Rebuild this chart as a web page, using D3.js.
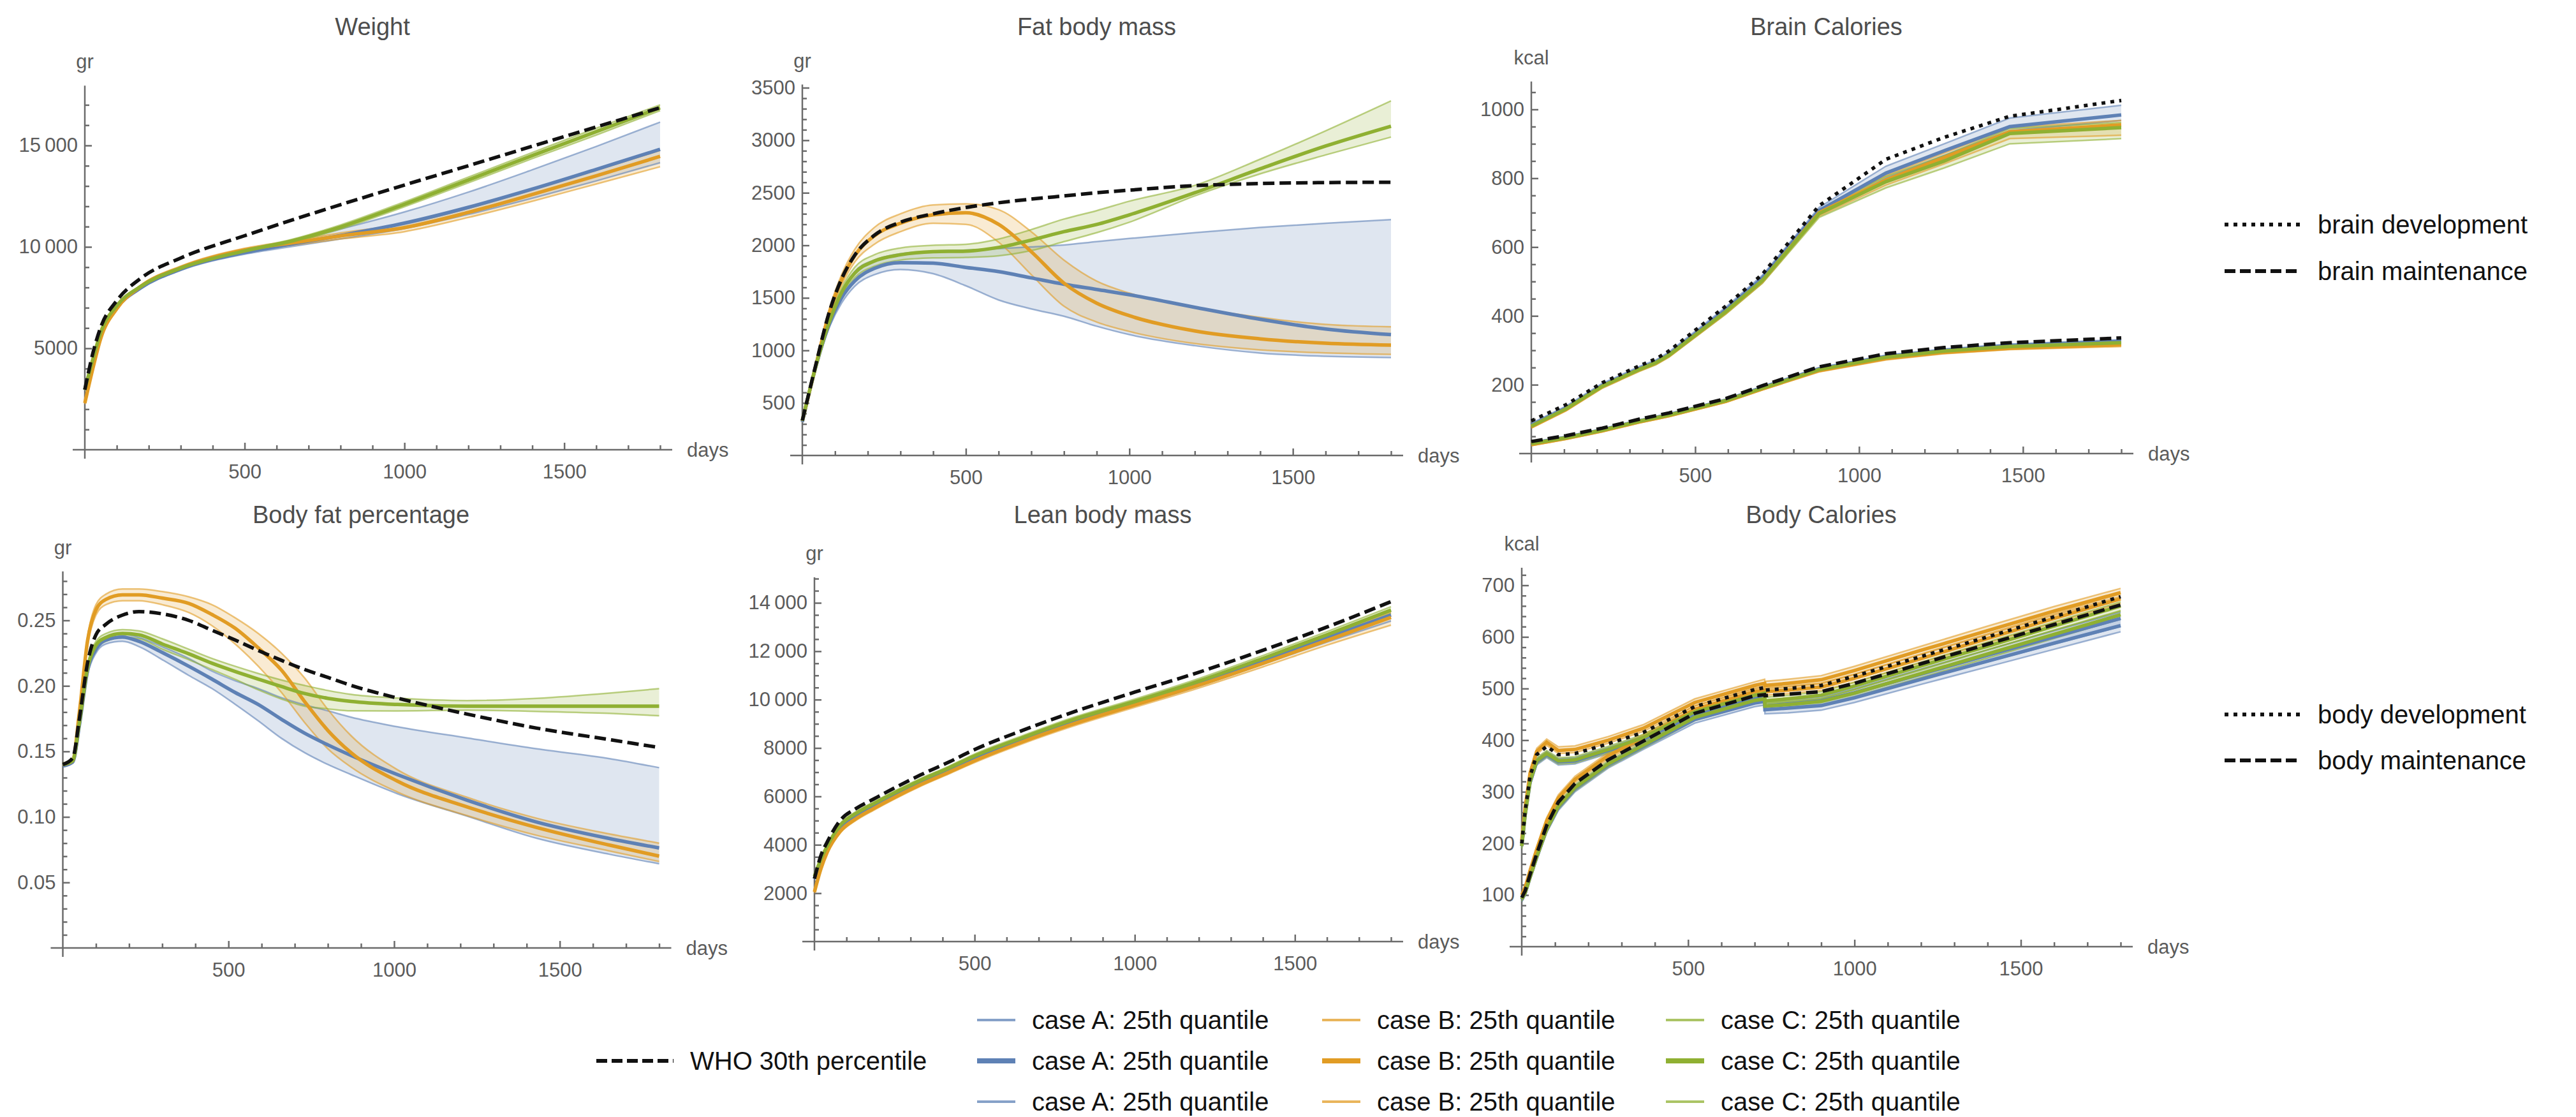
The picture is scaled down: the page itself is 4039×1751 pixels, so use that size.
<!DOCTYPE html>
<html>
<head>
<meta charset="utf-8">
<script src="https://cdn.jsdelivr.net/npm/d3@7"></script>
<style>
  body { margin: 0; background: #fff; }
  svg text { font-family: "Liberation Sans", Arial, Helvetica, sans-serif; }
</style>
</head>
<body>
<div id="chart"></div>
<script>
"use strict";

// ---------- data ----------
const weightDays = [0, 25, 50, 100, 175, 300, 500, 650, 800, 1000, 1200, 1400, 1600, 1800];
const weightWHO = [2960, 4750, 6050, 7350, 8450, 9450, 10550, 11330, 12080, 13050, 14000, 14960, 15910, 16860];
const weightA_med = [2960, 4380, 5700, 7000, 7980, 8900, 9720, 10150, 10560, 11170, 11950, 12850, 13820, 14810];
const weightA_hi = [3000, 4420, 5740, 7040, 8030, 8960, 9800, 10300, 10880, 11720, 12700, 13800, 14950, 16150];
const weightA_lo = [2920, 4340, 5660, 6960, 7930, 8840, 9640, 10020, 10390, 10900, 11600, 12400, 13250, 14150];
const weightB_med = [2300, 4000, 5500, 6950, 8050, 8980, 9850, 10200, 10540, 10950, 11700, 12580, 13500, 14460];
const weightB_hi = [2350, 4050, 5560, 7010, 8110, 9050, 9930, 10310, 10690, 11130, 11900, 12820, 13780, 14760];
const weightB_lo = [2250, 3950, 5440, 6890, 7990, 8910, 9770, 10090, 10390, 10750, 11450, 12250, 13100, 13950];
const weightC_med = [2960, 4450, 5800, 7100, 8050, 8950, 9800, 10300, 10980, 12100, 13300, 14500, 15680, 16860];
const weightC_hi = [3000, 4500, 5850, 7150, 8100, 9010, 9860, 10380, 11080, 12220, 13440, 14650, 15850, 17000];
const weightC_lo = [2920, 4400, 5750, 7050, 8000, 8890, 9740, 10220, 10880, 11980, 13160, 14350, 15510, 16720];

const fatDays = [0, 40, 80, 120, 160, 220, 300, 400, 500, 600, 700, 800, 900, 1000, 1200, 1400, 1600, 1800];
const fatWHO = [333, 848, 1340, 1680, 1905, 2095, 2220, 2300, 2360, 2405, 2440, 2470, 2500, 2525, 2568, 2588, 2597, 2600];
const fatA_med = [320, 830, 1230, 1500, 1660, 1780, 1835, 1830, 1790, 1750, 1690, 1630, 1580, 1530, 1410, 1296, 1204, 1150];
const fatA_hi = [330, 845, 1260, 1560, 1750, 1860, 1920, 1945, 1955, 1968, 1985, 2003, 2035, 2065, 2120, 2170, 2210, 2245];
const fatA_lo = [310, 815, 1200, 1450, 1610, 1720, 1770, 1730, 1615, 1480, 1395, 1325, 1230, 1150, 1045, 975, 944, 932];
const fatB_med = [330, 840, 1330, 1670, 1900, 2090, 2210, 2290, 2310, 2200, 1940, 1640, 1450, 1330, 1185, 1110, 1068, 1050];
const fatB_hi = [345, 870, 1370, 1720, 1960, 2170, 2300, 2385, 2395, 2340, 2130, 1860, 1660, 1545, 1410, 1315, 1247, 1225];
const fatB_lo = [315, 810, 1290, 1620, 1840, 2010, 2130, 2210, 2200, 2030, 1720, 1420, 1270, 1180, 1065, 1005, 976, 963];
const fatC_med = [330, 835, 1250, 1550, 1735, 1850, 1910, 1940, 1945, 1980, 2050, 2130, 2198, 2290, 2500, 2728, 2945, 3134];
const fatC_hi = [340, 850, 1275, 1590, 1790, 1910, 1975, 2000, 2010, 2060, 2150, 2250, 2330, 2420, 2570, 2820, 3090, 3375];
const fatC_lo = [320, 820, 1225, 1510, 1690, 1800, 1860, 1880, 1885, 1900, 1950, 2035, 2120, 2220, 2470, 2680, 2860, 3030];

const brainDays = [0, 106, 217, 330, 380, 420, 594, 705, 878, 1082, 1260, 1460, 1800];
const brainDevWHO = [95, 142, 206, 255, 275, 298, 429, 521, 720, 855, 919, 980, 1026];
const brainMaintWHO = [35, 52, 74, 100, 110, 118, 160, 197, 252, 290, 308, 322, 336];
const brainDevA_med = [82, 132, 198, 247, 266, 288, 418, 510, 706, 815, 880, 950, 984];
const brainDevA_hi = [88, 138, 204, 253, 272, 295, 426, 518, 715, 835, 900, 975, 1012];
const brainDevA_lo = [77, 127, 193, 242, 261, 283, 412, 503, 697, 800, 866, 938, 968];
const brainDevB_med = [78, 128, 195, 244, 263, 285, 412, 502, 700, 795, 860, 935, 955];
const brainDevB_hi = [82, 132, 199, 248, 268, 290, 418, 508, 708, 808, 874, 948, 968];
const brainDevB_lo = [74, 124, 190, 239, 258, 280, 406, 495, 690, 780, 842, 915, 925];
const brainDevC_med = [80, 130, 196, 245, 264, 286, 413, 503, 697, 790, 850, 930, 947];
const brainDevC_hi = [84, 134, 200, 249, 269, 291, 419, 510, 705, 805, 866, 945, 962];
const brainDevC_lo = [76, 126, 191, 240, 259, 281, 406, 495, 686, 772, 830, 900, 915];
const brainMaintA_med = [30, 47, 69, 95, 105, 113, 155, 192, 246, 282, 300, 314, 326];
const brainMaintA_hi = [33, 50, 72, 98, 108, 116, 158, 195, 250, 286, 304, 318, 331];
const brainMaintA_lo = [27, 44, 66, 92, 102, 110, 152, 189, 242, 278, 296, 310, 321];
const brainMaintB_med = [26, 44, 66, 92, 102, 110, 152, 188, 241, 276, 294, 306, 316];
const brainMaintB_hi = [29, 47, 69, 95, 105, 113, 155, 191, 245, 280, 298, 310, 321];
const brainMaintB_lo = [23, 41, 63, 89, 99, 107, 149, 185, 237, 272, 290, 302, 311];
const brainMaintC_med = [29, 46, 68, 94, 104, 112, 154, 190, 244, 280, 298, 311, 322];
const brainMaintC_hi = [32, 49, 71, 97, 107, 115, 157, 193, 248, 284, 302, 315, 327];
const brainMaintC_lo = [26, 43, 65, 91, 101, 109, 151, 187, 240, 276, 294, 307, 317];

const bodyFatDays = [0, 30, 50, 75, 100, 130, 180, 230, 300, 380, 450, 520, 590, 660, 730, 800, 870, 1010, 1220, 1430, 1650, 1800];
const bodyFatWHO = [0.140, 0.145, 0.175, 0.218, 0.239, 0.247, 0.254, 0.2567, 0.255, 0.250, 0.2425, 0.235, 0.227, 0.2195, 0.2125, 0.2065, 0.2004, 0.1907, 0.1785, 0.1678, 0.159, 0.153];
const bodyFatA_med = [0.139, 0.142, 0.170, 0.212, 0.228, 0.235, 0.2372, 0.234, 0.2255, 0.215, 0.2052, 0.195, 0.1858, 0.1745, 0.1639, 0.155, 0.1469, 0.1323, 0.1128, 0.0961, 0.0835, 0.0763];
const bodyFatA_hi = [0.140, 0.143, 0.171, 0.214, 0.230, 0.237, 0.2395, 0.237, 0.230, 0.221, 0.2113, 0.204, 0.198, 0.191, 0.1855, 0.181, 0.1761, 0.1688, 0.1603, 0.152, 0.1445, 0.1376];
const bodyFatA_lo = [0.138, 0.141, 0.168, 0.209, 0.225, 0.232, 0.234, 0.230, 0.220, 0.208, 0.198, 0.186, 0.1733, 0.160, 0.149, 0.140, 0.1323, 0.1177, 0.1006, 0.0837, 0.0715, 0.0642];
const bodyFatB_med = [0.140, 0.143, 0.180, 0.235, 0.258, 0.266, 0.2695, 0.2695, 0.267, 0.263, 0.2545, 0.244, 0.229, 0.212, 0.188, 0.166, 0.149, 0.1273, 0.1077, 0.092, 0.0785, 0.0701];
const bodyFatB_hi = [0.141, 0.145, 0.183, 0.238, 0.262, 0.270, 0.274, 0.274, 0.272, 0.268, 0.262, 0.252, 0.240, 0.225, 0.206, 0.182, 0.162, 0.136, 0.115, 0.099, 0.087, 0.080];
const bodyFatB_lo = [0.139, 0.141, 0.177, 0.231, 0.254, 0.262, 0.265, 0.265, 0.262, 0.256, 0.246, 0.232, 0.215, 0.195, 0.172, 0.152, 0.138, 0.119, 0.101, 0.086, 0.074, 0.066];
const bodyFatC_med = [0.140, 0.143, 0.172, 0.214, 0.231, 0.237, 0.240, 0.239, 0.232, 0.2245, 0.2173, 0.211, 0.2052, 0.1995, 0.1942, 0.1905, 0.1882, 0.1858, 0.1845, 0.1845, 0.1845, 0.1845];
const bodyFatC_hi = [0.141, 0.144, 0.174, 0.217, 0.234, 0.240, 0.243, 0.242, 0.236, 0.228, 0.221, 0.215, 0.2095, 0.2045, 0.2003, 0.1965, 0.1935, 0.1907, 0.1888, 0.1905, 0.1945, 0.1979];
const bodyFatC_lo = [0.139, 0.142, 0.170, 0.211, 0.228, 0.234, 0.237, 0.236, 0.228, 0.220, 0.2125, 0.205, 0.197, 0.190, 0.1845, 0.1825, 0.181, 0.1809, 0.1815, 0.1805, 0.179, 0.1772];

const leanDays = [0, 20, 40, 80, 130, 185, 250, 330, 420, 500, 650, 800, 1000, 1200, 1400, 1600, 1800];
const leanWHO = [2600, 3550, 4120, 5000, 5500, 5892, 6350, 6880, 7420, 7936, 8730, 9450, 10310, 11130, 12040, 13000, 14050];
const leanA_med = [2600, 3350, 3900, 4700, 5220, 5620, 6070, 6580, 7090, 7570, 8340, 9050, 9850, 10680, 11600, 12550, 13500];
const leanA_hi = [2650, 3410, 3960, 4770, 5290, 5690, 6140, 6650, 7160, 7650, 8420, 9140, 9950, 10800, 11730, 12700, 13700];
const leanA_lo = [2550, 3290, 3840, 4630, 5150, 5550, 6000, 6510, 7020, 7490, 8260, 8960, 9750, 10560, 11460, 12380, 13250];
const leanB_med = [2050, 3000, 3700, 4550, 5080, 5500, 5960, 6480, 7000, 7475, 8260, 8960, 9780, 10600, 11500, 12450, 13400];
const leanB_hi = [2100, 3060, 3760, 4620, 5150, 5570, 6030, 6550, 7070, 7550, 8340, 9050, 9880, 10720, 11630, 12600, 13600];
const leanB_lo = [2000, 2940, 3640, 4480, 5010, 5430, 5890, 6410, 6930, 7400, 8180, 8870, 9680, 10480, 11350, 12250, 13080];
const leanC_med = [2700, 3400, 3950, 4800, 5300, 5700, 6150, 6660, 7180, 7670, 8430, 9140, 9920, 10760, 11700, 12680, 13700];
const leanC_hi = [2750, 3460, 4010, 4870, 5370, 5770, 6220, 6730, 7250, 7750, 8510, 9230, 10020, 10870, 11820, 12810, 13840];
const leanC_lo = [2650, 3340, 3890, 4730, 5230, 5630, 6080, 6590, 7110, 7590, 8350, 9050, 9820, 10650, 11580, 12540, 13550];

const bodyCalDays = [0, 10, 25, 45, 75, 110, 160, 260, 365, 520, 700, 730, 731, 800, 900, 1000, 1200, 1400, 1600, 1800];
const bodyCalDevWHO = [200, 262, 330, 372, 388, 372, 374, 393, 415, 465, 498, 502, 497, 500, 506, 524, 562, 600, 639, 678];
const bodyCalMaintWHO = [95, 108, 140, 180, 235, 280, 316, 362, 398, 452, 486, 488, 486, 489, 494, 510, 548, 586, 624, 662];
const bodyCalDevA_med = [195, 254, 318, 358, 372, 358, 360, 380, 402, 450, 480, 484, 466, 470, 476, 492, 528, 565, 600, 636];
const bodyCalDevA_hi = [199, 259, 324, 364, 378, 364, 366, 386, 408, 457, 488, 492, 474, 478, 484, 500, 538, 575, 612, 648];
const bodyCalDevA_lo = [191, 249, 312, 352, 366, 352, 354, 374, 396, 443, 472, 476, 458, 462, 467, 482, 517, 552, 586, 620];
const bodyCalDevB_med = [205, 268, 336, 378, 396, 380, 382, 400, 423, 473, 506, 510, 506, 510, 517, 535, 574, 612, 650, 686];
const bodyCalDevB_hi = [210, 273, 342, 384, 402, 387, 389, 407, 430, 480, 513, 518, 514, 518, 525, 543, 582, 621, 659, 694];
const bodyCalDevB_lo = [200, 263, 330, 372, 390, 374, 376, 394, 417, 466, 499, 503, 499, 503, 509, 527, 566, 604, 642, 678];
const bodyCalDevC_med = [195, 255, 320, 360, 374, 360, 362, 382, 405, 455, 487, 491, 476, 480, 487, 505, 544, 582, 621, 660];
const bodyCalDevC_hi = [200, 260, 326, 366, 380, 366, 368, 388, 411, 461, 493, 497, 483, 487, 494, 512, 551, 590, 629, 668];
const bodyCalDevC_lo = [190, 250, 314, 354, 368, 354, 356, 376, 399, 449, 481, 485, 470, 474, 480, 498, 537, 575, 613, 650];
const bodyCalMaintA_med = [91, 103, 134, 173, 227, 270, 306, 352, 388, 440, 472, 475, 459, 462, 467, 482, 518, 553, 588, 622];
const bodyCalMaintA_hi = [95, 107, 138, 178, 232, 276, 312, 358, 394, 447, 479, 482, 467, 470, 475, 490, 527, 563, 599, 634];
const bodyCalMaintA_lo = [87, 99, 129, 168, 221, 264, 300, 346, 382, 433, 465, 468, 451, 453, 458, 473, 508, 542, 576, 610];
const bodyCalMaintB_med = [100, 114, 147, 188, 244, 288, 324, 370, 405, 460, 494, 497, 494, 497, 503, 520, 558, 597, 636, 674];
const bodyCalMaintB_hi = [104, 119, 153, 194, 250, 294, 330, 376, 411, 467, 501, 504, 502, 505, 511, 528, 567, 606, 645, 684];
const bodyCalMaintB_lo = [96, 110, 142, 182, 238, 282, 318, 364, 399, 453, 487, 490, 487, 490, 496, 512, 550, 588, 627, 665];
const bodyCalMaintC_med = [92, 104, 135, 174, 228, 272, 308, 354, 390, 444, 477, 480, 466, 469, 475, 491, 529, 567, 605, 643];
const bodyCalMaintC_hi = [96, 108, 140, 179, 234, 278, 314, 360, 396, 450, 483, 486, 472, 475, 481, 498, 536, 575, 613, 651];
const bodyCalMaintC_lo = [88, 100, 130, 169, 222, 266, 302, 348, 384, 438, 471, 474, 459, 462, 468, 484, 521, 559, 597, 635];

const xMajorTicks = [500, 1000, 1500];
const caseLegendLabels = ["case A: 25th quantile", "case B: 25th quantile", "case C: 25th quantile"];
const whoLegendLabel = "WHO 30th percentile";
const brainLegendLabels = ["brain development", "brain maintenance"];
const bodyLegendLabels = ["body development", "body maintenance"];

// ---------- style ----------
const W = 4039, H = 1751;
const caseColors = { A: "#5E81B5", B: "#E19C24", C: "#8FB032" };
const axisColor = "#6b6b6b";
const labelColor = "#5b5b5b";
const DASH = "18,8";
const DOT = "6,8";

const fmtGroup = v => v >= 10000 ? d3.format(",")(v).replace(",", "\u2009") : String(v);
const fmtPlain = v => String(v);
const fmtFrac = d3.format(".2f");

const panels = [
  {
    title: "Weight", unit: "gr", days: weightDays, curve: d3.curveMonotoneX,
    refs: [[weightWHO, DASH]],
    cases: [["A", weightA_lo, weightA_med, weightA_hi], ["B", weightB_lo, weightB_med, weightB_hi], ["C", weightC_lo, weightC_med, weightC_hi]],
    x0: 133, x1: 1035, y0: 705, yRef: [15000, 228], yTop: 17950,
    yMajor: [5000, 10000, 15000], yMinor: 1000, fmt: fmtGroup, titleY: 55
  },
  {
    title: "Fat body mass", unit: "gr", days: fatDays, curve: d3.curveMonotoneX,
    refs: [[fatWHO, DASH]],
    cases: [["A", fatA_lo, fatA_med, fatA_hi], ["B", fatB_lo, fatB_med, fatB_hi], ["C", fatC_lo, fatC_med, fatC_hi]],
    x0: 1258, x1: 2181, y0: 714, yRef: [3500, 137.5], yTop: 3530,
    yMajor: [500, 1000, 1500, 2000, 2500, 3000, 3500], yMinor: 100, fmt: fmtPlain, titleY: 55
  },
  {
    title: "Brain Calories", unit: "kcal", days: brainDays, curve: d3.curveLinear,
    refs: [[brainDevWHO, DOT], [brainMaintWHO, DASH]],
    cases: [
      ["A", brainDevA_lo, brainDevA_med, brainDevA_hi], ["A", brainMaintA_lo, brainMaintA_med, brainMaintA_hi],
      ["B", brainDevB_lo, brainDevB_med, brainDevB_hi], ["B", brainMaintB_lo, brainMaintB_med, brainMaintB_hi],
      ["C", brainDevC_lo, brainDevC_med, brainDevC_hi], ["C", brainMaintC_lo, brainMaintC_med, brainMaintC_hi]
    ],
    x0: 2401, x1: 3326, y0: 711, yRef: [1000, 171.5], yTop: 1081,
    yMajor: [200, 400, 600, 800, 1000], yMinor: 50, fmt: fmtPlain, titleY: 55
  },
  {
    title: "Body fat percentage", unit: "gr", days: bodyFatDays, curve: d3.curveMonotoneX,
    refs: [[bodyFatWHO, DASH]],
    cases: [["A", bodyFatA_lo, bodyFatA_med, bodyFatA_hi], ["B", bodyFatB_lo, bodyFatB_med, bodyFatB_hi], ["C", bodyFatC_lo, bodyFatC_med, bodyFatC_hi]],
    x0: 98.5, x1: 1033.5, y0: 1486, yRef: [0.25, 972.5], yTop: 0.2874,
    yMajor: [0.05, 0.10, 0.15, 0.20, 0.25], yMinor: 0.01, fmt: fmtFrac, titleY: 820
  },
  {
    title: "Lean body mass", unit: "gr", days: leanDays, curve: d3.curveMonotoneX,
    refs: [[leanWHO, DASH]],
    cases: [["A", leanA_lo, leanA_med, leanA_hi], ["B", leanB_lo, leanB_med, leanB_hi], ["C", leanC_lo, leanC_med, leanC_hi]],
    x0: 1277, x1: 2181, y0: 1476, yRef: [14000, 945], yTop: 15054,
    yMajor: [2000, 4000, 6000, 8000, 10000, 12000, 14000], yMinor: 500, fmt: fmtGroup, titleY: 820
  },
  {
    title: "Body Calories", unit: "kcal", days: bodyCalDays, curve: d3.curveLinear,
    refs: [[bodyCalDevWHO, DOT], [bodyCalMaintWHO, DASH]],
    cases: [
      ["A", bodyCalDevA_lo, bodyCalDevA_med, bodyCalDevA_hi], ["A", bodyCalMaintA_lo, bodyCalMaintA_med, bodyCalMaintA_hi],
      ["B", bodyCalDevB_lo, bodyCalDevB_med, bodyCalDevB_hi], ["B", bodyCalMaintB_lo, bodyCalMaintB_med, bodyCalMaintB_hi],
      ["C", bodyCalDevC_lo, bodyCalDevC_med, bodyCalDevC_hi], ["C", bodyCalMaintC_lo, bodyCalMaintC_med, bodyCalMaintC_hi]
    ],
    x0: 2386, x1: 3325, y0: 1484, yRef: [700, 917.5], yTop: 734,
    yMajor: [100, 200, 300, 400, 500, 600, 700], yMinor: 20, fmt: fmtPlain, titleY: 820
  }
];

const svg = d3.select("#chart").append("svg")
  .attr("width", W).attr("height", H)
  .style("background", "#fff");

function minorValues(step, top, majors) {
  const n = Math.floor(top / step + 1e-6);
  return d3.range(1, n + 1)
    .map(i => +(i * step).toFixed(6))
    .filter(v => !majors.some(m => Math.abs(m - v) < step / 10));
}

function styleAxis(sel) {
  sel.select(".domain").remove();
  sel.attr("color", axisColor);
  sel.selectAll("line").attr("stroke-width", 2.5);
  sel.selectAll("text")
    .attr("fill", labelColor)
    .attr("font-size", 31)
    .attr("font-family", '"Liberation Sans", Arial, sans-serif');
}

function drawPanel(p) {
  const x = d3.scaleLinear().domain([0, 1800]).range([p.x0, p.x1]);
  const y = d3.scaleLinear().domain([0, p.yRef[0]]).range([p.y0, p.yRef[1]]);
  const g = svg.append("g").attr("class", "panel");
  const yTopPx = y(p.yTop);

  // axis lines
  g.append("line")
    .attr("x1", p.x0 - 19).attr("x2", p.x1 + 19)
    .attr("y1", p.y0).attr("y2", p.y0)
    .attr("stroke", axisColor).attr("stroke-width", 2.5);
  g.append("line")
    .attr("x1", p.x0).attr("x2", p.x0)
    .attr("y1", p.y0 + 14).attr("y2", yTopPx)
    .attr("stroke", axisColor).attr("stroke-width", 2.5);

  // x ticks
  g.append("g").attr("transform", `translate(0,${p.y0})`)
    .call(d3.axisBottom(x).tickValues(xMajorTicks).tickSize(-11).tickSizeOuter(0).tickPadding(23).tickFormat(d3.format("d")))
    .call(styleAxis);
  g.append("g").attr("transform", `translate(0,${p.y0})`)
    .call(d3.axisBottom(x).tickValues(minorValues(100, 1800, xMajorTicks)).tickSize(-7).tickSizeOuter(0).tickFormat(""))
    .call(styleAxis);

  // y ticks
  g.append("g").attr("transform", `translate(${p.x0},0)`)
    .call(d3.axisLeft(y).tickValues(p.yMajor).tickSize(-11).tickSizeOuter(0).tickPadding(11).tickFormat(p.fmt))
    .call(styleAxis);
  g.append("g").attr("transform", `translate(${p.x0},0)`)
    .call(d3.axisLeft(y).tickValues(minorValues(p.yMinor, p.yTop, p.yMajor)).tickSize(-7).tickSizeOuter(0).tickFormat(""))
    .call(styleAxis);

  // labels
  g.append("text")
    .attr("x", (p.x0 + p.x1) / 2).attr("y", p.titleY)
    .attr("text-anchor", "middle")
    .attr("font-size", 38)
    .attr("fill", "#4d4d4d")
    .text(p.title);
  g.append("text")
    .attr("x", p.x0).attr("y", yTopPx - 27)
    .attr("text-anchor", "middle")
    .attr("font-size", 31)
    .attr("fill", labelColor)
    .text(p.unit);
  g.append("text")
    .attr("x", p.x1 + 42).attr("y", p.y0)
    .attr("dominant-baseline", "central")
    .attr("font-size", 31)
    .attr("fill", labelColor)
    .text("days");

  const line = vals => d3.line()
    .x((d, i) => x(p.days[i]))
    .y(d => y(d))
    .curve(p.curve)(vals);
  const band = (lo, hi) => d3.area()
    .x((d, i) => x(p.days[i]))
    .y0(d => y(d[0]))
    .y1(d => y(d[1]))
    .curve(p.curve)(lo.map((v, i) => [v, hi[i]]));

  // bands, then quantile edges, then medians
  p.cases.forEach(([k, lo, , hi]) => {
    g.append("path").attr("d", band(lo, hi))
      .attr("fill", caseColors[k]).attr("fill-opacity", 0.2).attr("stroke", "none");
  });
  p.cases.forEach(([k, lo, , hi]) => {
    [lo, hi].forEach(v => {
      g.append("path").attr("d", line(v))
        .attr("fill", "none").attr("stroke", caseColors[k])
        .attr("stroke-opacity", 0.6).attr("stroke-width", 2.5);
    });
  });
  p.cases.forEach(([k, , med]) => {
    g.append("path").attr("d", line(med))
      .attr("fill", "none").attr("stroke", caseColors[k])
      .attr("stroke-width", 5.5);
  });

  // reference curves
  p.refs.forEach(([vals, dash]) => {
    g.append("path").attr("d", line(vals))
      .attr("fill", "none").attr("stroke", "#111")
      .attr("stroke-width", 5.5)
      .attr("stroke-dasharray", dash);
  });
}

panels.forEach(drawPanel);

// ---------- legends ----------
function legendRow(x1, x2, yy, label, stroke, width, dash, opacity) {
  const g = svg.append("g");
  g.append("line")
    .attr("x1", x1).attr("x2", x2).attr("y1", yy).attr("y2", yy)
    .attr("stroke", stroke).attr("stroke-width", width)
    .attr("stroke-opacity", opacity)
    .attr("stroke-dasharray", dash);
  g.append("text")
    .attr("x", x2 + 26).attr("y", yy)
    .attr("dominant-baseline", "central")
    .attr("font-size", 40)
    .attr("fill", "#111")
    .text(label);
}

legendRow(3488, 3608, 352, brainLegendLabels[0], "#111", 6, DOT, 1);
legendRow(3488, 3608, 425, brainLegendLabels[1], "#111", 6, "17,7", 1);
legendRow(3488, 3608, 1120, bodyLegendLabels[0], "#111", 6, DOT, 1);
legendRow(3488, 3608, 1192, bodyLegendLabels[1], "#111", 6, "17,7", 1);

legendRow(935, 1056, 1663, whoLegendLabel, "#111", 6, "17,7", 1);

const legendCols = [["A", 1532], ["B", 2073], ["C", 2612]];
const legendRowsY = [1599, 1663, 1727];
legendCols.forEach(([k, lx], ci) => {
  legendRowsY.forEach((ly, ri) => {
    const thick = ri === 1;
    legendRow(lx, lx + 60, ly, caseLegendLabels[ci], caseColors[k], thick ? 8 : 4, null, thick ? 1 : 0.75);
  });
});
</script>
</body>
</html>
